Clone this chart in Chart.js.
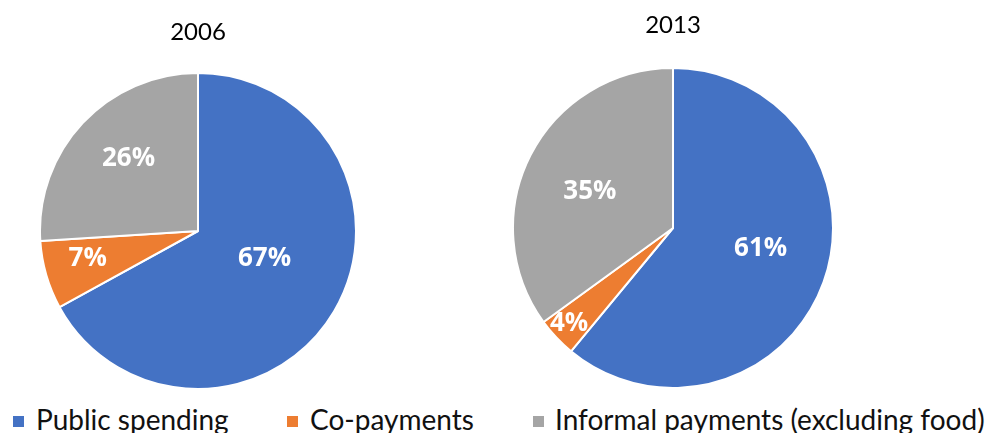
<!DOCTYPE html>
<html>
<head>
<meta charset="utf-8">
<script src="https://cdn.jsdelivr.net/npm/chart.js@4.4.1/dist/chart.umd.min.js"></script>
<style>
  html, body { margin: 0; padding: 0; background: #ffffff; }
  #wrap { position: relative; width: 1001px; height: 433px; overflow: hidden; background: #ffffff; }
  canvas { position: absolute; }
  #c2006 { left: 39px; top: 0px; }
  #c2013 { left: 512px; top: 0px; }
  .lg { position: absolute; top: 403px; font-family: Lato, "Open Sans", sans-serif; font-size: 28px; line-height: 1.2; color: #111111; white-space: nowrap; }
  .sw { position: absolute; top: 416px; width: 11px; height: 11px; }
</style>
</head>
<body>
<div id="wrap">
  <canvas id="c2006" width="318" height="390"></canvas>
  <canvas id="c2013" width="322" height="389"></canvas>
  <div id="legend"></div>
</div>
<script>
// Shares of health spending by source
const categories = ['Public spending', 'Co-payments', 'Informal payments (excluding food)'];
const years = ['2006', '2013'];
const values2006 = [67, 7, 26];
const values2013 = [61, 4, 35];
const colors = ['#4472C4', '#ED7D31', '#A5A5A5'];

const LABEL_FONT = 'bold 26px "Open Sans"';

// Percentage labels placed inside each slice
const sliceLabels = {
  id: 'sliceLabels',
  afterDatasetsDraw(chart, args, opts) {
    const ctx = chart.ctx;
    const meta = chart.getDatasetMeta(0);
    const data = chart.data.datasets[0].data;
    ctx.save();
    ctx.fillStyle = '#ffffff';
    ctx.font = LABEL_FONT + ', sans-serif';
    ctx.textAlign = 'center';
    ctx.textBaseline = 'middle';
    meta.data.forEach((arc, i) => {
      const p = arc.getProps(['x', 'y', 'startAngle', 'endAngle', 'outerRadius'], true);
      const mid = (p.startAngle + p.endAngle) / 2 + (opts.shift[i] || 0) * Math.PI / 180;
      const r = p.outerRadius * opts.radius[i];
      ctx.fillText(data[i] + '%', p.x + Math.cos(mid) * r, p.y + Math.sin(mid) * r);
    });
    ctx.restore();
  }
};

function makePie(id, year, values, padTop, padBottom, radius, shift) {
  return new Chart(document.getElementById(id), {
    type: 'pie',
    data: {
      labels: categories,
      datasets: [{
        data: values,
        backgroundColor: colors,
        borderColor: '#ffffff',
        borderWidth: 2,
        hoverOffset: 0
      }]
    },
    options: {
      responsive: false,
      maintainAspectRatio: false,
      animation: false,
      devicePixelRatio: 1,
      layout: { padding: 0 },
      plugins: {
        legend: { display: false },
        tooltip: { enabled: false },
        title: {
          display: true,
          text: year,
          color: '#000000',
          font: { family: 'Lato, "Open Sans", sans-serif', size: 24, weight: 'normal', lineHeight: 1.2 },
          padding: { top: padTop, bottom: padBottom }
        },
        sliceLabels: { radius: radius, shift: shift }
      }
    },
    plugins: [sliceLabels]
  });
}

function draw() {
  makePie('c2006', years[0], values2006, 17.6, 25.6, [0.457, 0.72, 0.633], [-7.8, 2, 2.8]);
  makePie('c2013', years[1], values2013, 10.6, 27.6, [0.5625, 0.884, 0.566], [-6.6, 0.5, -3.6]);

  // Shared legend below both pies
  const legendLeft = [[13, 36], [287, 310], [533, 555]];
  const legend = document.getElementById('legend');
  categories.forEach((name, i) => {
    const sw = document.createElement('div');
    sw.className = 'sw';
    sw.style.left = legendLeft[i][0] + 'px';
    sw.style.background = colors[i];
    legend.appendChild(sw);
    const t = document.createElement('div');
    t.className = 'lg';
    t.style.left = legendLeft[i][1] + 'px';
    t.textContent = name;
    legend.appendChild(t);
  });
}

Promise.all([
  document.fonts.load(LABEL_FONT),
  document.fonts.load('24px Lato')
]).then(draw, draw);
</script>
</body>
</html>
